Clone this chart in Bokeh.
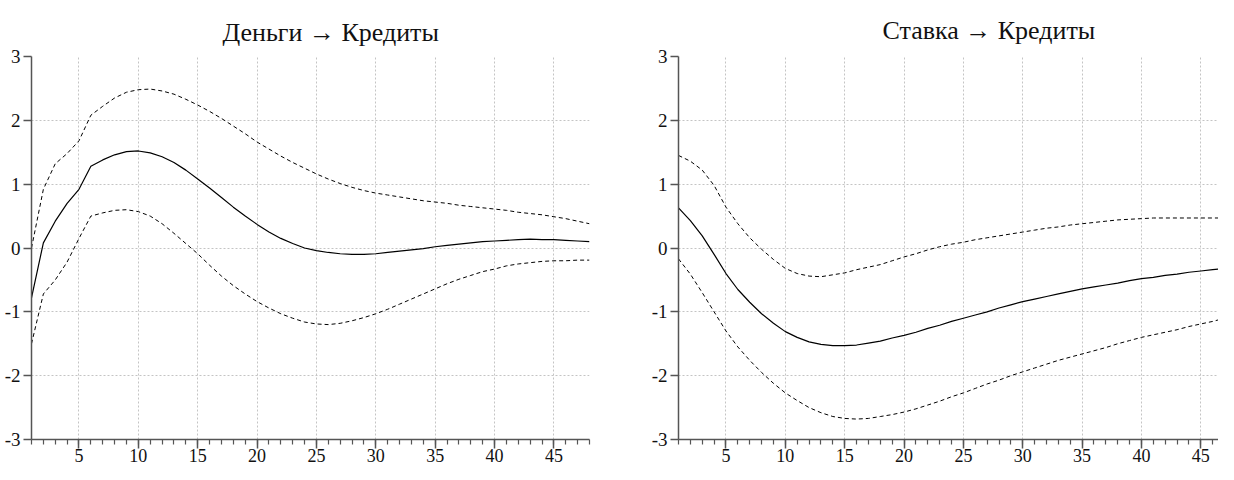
from bokeh.plotting import figure
from bokeh.layouts import row
from bokeh.models import Range1d, FixedTicker
from bokeh.embed import file_html
from bokeh.resources import INLINE

periods = list(range(1, 49))

# Деньги -> Кредиты
money_mid = [-0.78, 0.08, 0.42, 0.70, 0.92, 1.28, 1.38, 1.46, 1.51, 1.52,
             1.49, 1.43, 1.34, 1.22, 1.08, 0.94, 0.79, 0.64, 0.50, 0.37,
             0.25, 0.15, 0.07, 0.00, -0.04, -0.07, -0.09, -0.10, -0.10, -0.09,
             -0.07, -0.05, -0.03, -0.01, 0.02, 0.04, 0.06, 0.08, 0.10, 0.11,
             0.12, 0.13, 0.14, 0.13, 0.13, 0.12, 0.11, 0.10]
money_hi = [0.00, 0.92, 1.32, 1.48, 1.68, 2.08, 2.22, 2.35, 2.44, 2.48,
            2.49, 2.46, 2.41, 2.33, 2.24, 2.14, 2.03, 1.91, 1.79, 1.66,
            1.55, 1.44, 1.34, 1.25, 1.16, 1.08, 1.01, 0.95, 0.90, 0.86,
            0.83, 0.80, 0.77, 0.74, 0.72, 0.70, 0.67, 0.65, 0.63, 0.61,
            0.59, 0.56, 0.54, 0.52, 0.49, 0.46, 0.42, 0.38]
money_lo = [-1.50, -0.72, -0.50, -0.22, 0.15, 0.50, 0.55, 0.59, 0.60, 0.57,
            0.50, 0.38, 0.23, 0.07, -0.09, -0.27, -0.44, -0.59, -0.72, -0.84,
            -0.94, -1.03, -1.10, -1.16, -1.19, -1.20, -1.18, -1.14, -1.09, -1.03,
            -0.96, -0.88, -0.80, -0.72, -0.64, -0.56, -0.49, -0.43, -0.37, -0.33,
            -0.28, -0.25, -0.23, -0.21, -0.20, -0.20, -0.19, -0.19]

# Ставка -> Кредиты
rate_mid = [0.63, 0.43, 0.19, -0.10, -0.40, -0.65, -0.85, -1.03, -1.18, -1.31,
            -1.40, -1.47, -1.51, -1.53, -1.53, -1.52, -1.49, -1.46, -1.41, -1.37,
            -1.32, -1.26, -1.21, -1.15, -1.10, -1.05, -1.00, -0.94, -0.89, -0.84,
            -0.80, -0.76, -0.72, -0.68, -0.64, -0.61, -0.58, -0.55, -0.51, -0.48,
            -0.46, -0.43, -0.41, -0.38, -0.36, -0.34, -0.32, -0.30]
rate_hi = [1.45, 1.36, 1.22, 0.98, 0.64, 0.38, 0.16, -0.02, -0.18, -0.32,
           -0.40, -0.44, -0.45, -0.42, -0.39, -0.34, -0.30, -0.26, -0.20, -0.14,
           -0.09, -0.03, 0.02, 0.06, 0.09, 0.13, 0.16, 0.19, 0.22, 0.25,
           0.28, 0.31, 0.33, 0.36, 0.38, 0.40, 0.42, 0.44, 0.45, 0.46,
           0.47, 0.47, 0.47, 0.47, 0.47, 0.47, 0.47, 0.47]
rate_lo = [-0.17, -0.41, -0.70, -1.00, -1.30, -1.55, -1.76, -1.95, -2.12, -2.27,
           -2.39, -2.50, -2.58, -2.64, -2.67, -2.68, -2.67, -2.64, -2.61, -2.57,
           -2.52, -2.46, -2.40, -2.33, -2.27, -2.20, -2.13, -2.07, -2.00, -1.94,
           -1.88, -1.82, -1.76, -1.71, -1.66, -1.61, -1.56, -1.50, -1.45, -1.40,
           -1.36, -1.32, -1.28, -1.23, -1.19, -1.15, -1.10, -1.06]

titles = ["Деньги \u2192 Кредиты", "Ставка \u2192 Кредиты"]
xtick_vals = [5, 10, 15, 20, 25, 30, 35, 40, 45]
ytick_vals = [-3, -2, -1, 0, 1, 2, 3]
ytick_labels = {v: str(v) for v in ytick_vals}

FONT = "Liberation Serif"
AXIS_COLOR = "#555555"
GRID_COLOR = "#c4c4c4"
TEXT_COLOR = "#111111"


def make_panel(title, mid, hi, lo, width, border_left, border_right, border_top,
               x_end, title_offset, title_standoff):
    p = figure(width=width, height=464, output_backend="svg", toolbar_location=None,
               x_range=Range1d(1, x_end), y_range=Range1d(-3, 3),
               min_border_left=border_left, min_border_right=border_right,
               min_border_top=border_top, min_border_bottom=0, title=title)
    p.outline_line_color = None
    p.background_fill_color = "white"
    p.border_fill_color = "white"

    p.title.text_font = FONT
    p.title.text_font_size = "26px"
    p.title.text_font_style = "normal"
    p.title.text_color = TEXT_COLOR
    p.title.align = "left"
    p.title.offset = title_offset
    p.title.standoff = title_standoff

    # grids
    p.xgrid.ticker = FixedTicker(ticks=xtick_vals)
    p.ygrid.ticker = FixedTicker(ticks=[-2, -1, 0, 1, 2])
    for g in (p.xgrid[0], p.ygrid[0]):
        g.grid_line_color = GRID_COLOR
        g.grid_line_dash = "2 2"
        g.grid_line_width = 1

    # x axis
    xa = p.xaxis[0]
    xa.ticker = FixedTicker(ticks=xtick_vals, minor_ticks=periods)
    xa.major_tick_out = 9
    xa.major_tick_in = 0
    xa.minor_tick_out = 5
    xa.minor_tick_in = 0
    xa.axis_line_color = AXIS_COLOR
    xa.axis_line_width = 1.5
    xa.major_tick_line_color = AXIS_COLOR
    xa.major_tick_line_width = 1.5
    xa.minor_tick_line_color = AXIS_COLOR
    xa.minor_tick_line_width = 1.2
    xa.major_label_text_font = FONT
    xa.major_label_text_font_size = "18px"
    xa.major_label_text_color = TEXT_COLOR
    xa.major_label_standoff = 0

    # y axis
    ya = p.yaxis[0]
    ya.ticker = FixedTicker(ticks=ytick_vals)
    ya.major_label_overrides = ytick_labels
    ya.major_tick_out = 8
    ya.major_tick_in = 0
    ya.minor_tick_out = 0
    ya.minor_tick_in = 0
    ya.axis_line_color = AXIS_COLOR
    ya.axis_line_width = 1.5
    ya.major_tick_line_color = AXIS_COLOR
    ya.major_tick_line_width = 1.5
    ya.major_label_text_font = FONT
    ya.major_label_text_font_size = "19px"
    ya.major_label_text_color = TEXT_COLOR
    ya.major_label_standoff = 3

    p.line(periods, hi, line_color="black", line_width=1, line_dash="4 3")
    p.line(periods, lo, line_color="black", line_width=1, line_dash="4 3")
    p.line(periods, mid, line_color="black", line_width=1.2)
    return p


left = make_panel(titles[0], money_mid, money_hi, money_lo, width=620,
                  border_left=31, border_right=31, border_top=52, x_end=48,
                  title_offset=191, title_standoff=20)
right = make_panel(titles[1], rate_mid, rate_hi, rate_lo, width=598,
                   border_left=58, border_right=0, border_top=56, x_end=46.49,
                   title_offset=204, title_standoff=24)

layout = row(left, right, spacing=0)

open("out.html", "w").write(file_html(layout, INLINE))
